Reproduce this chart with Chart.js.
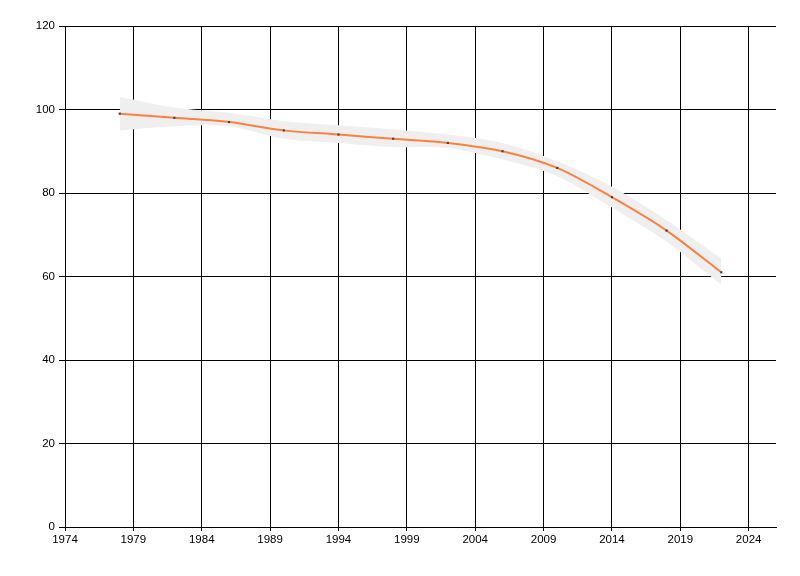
<!DOCTYPE html>
<html>
<head>
<meta charset="utf-8">
<script src="https://cdn.jsdelivr.net/npm/chart.js@4"></script>
<style>
    html, body { margin: 0; padding: 0; background: #fff; }
    #wrap { width: 800px; height: 576px; }
</style>
</head>
<body>
<div id="wrap"><canvas id="chart" width="800" height="576"></canvas></div>
<script>
// data
const years = [1978, 1982, 1986, 1990, 1994, 1998, 2002, 2006, 2010, 2014, 2018, 2022];
const values = [99, 98, 97, 95, 94, 93, 92, 90, 86, 79, 71, 61];
const upper = [103, 100.5, 99.2, 97.2, 96.2, 95.2, 94, 92, 87.6, 81.5, 73.5, 64.3];
const lower = [95, 96, 96, 93, 92, 91, 90.8, 88, 84, 76.5, 68.3, 58];
const xTicks = [1974, 1979, 1984, 1989, 1994, 1999, 2004, 2009, 2014, 2019, 2024];
const yTicks = [0, 20, 40, 60, 80, 100, 120];

const toPoints = (arr) => years.map((y, i) => ({ x: y, y: arr[i] }));

const ctx = document.getElementById('chart').getContext('2d');

new Chart(ctx, {
    type: 'line',
    data: {
        datasets: [
            {
                label: 'lower',
                data: toPoints(lower),
                borderWidth: 0,
                pointRadius: 0,
                fill: false,
                tension: 0.3,
                order: 3,
            },
            {
                label: 'upper',
                data: toPoints(upper),
                borderWidth: 0,
                pointRadius: 0,
                backgroundColor: '#efefef',
                fill: '-1',
                tension: 0.3,
                order: 2,
            },
            {
                label: 'value',
                data: toPoints(values),
                borderColor: '#ff7f3f',
                borderWidth: 2,
                pointStyle: 'rect',
                pointRadius: 1.5,
                pointBackgroundColor: '#404040',
                pointBorderWidth: 0,
                fill: false,
                tension: 0.3,
                order: 1,
            },
        ],
    },
    options: {
        responsive: false,
        animation: false,
        layout: { padding: { top: 26, right: 24, left: 0, bottom: 0 } },
        plugins: {
            legend: { display: false },
            tooltip: { enabled: false },
        },
        scales: {
            x: {
                type: 'linear',
                min: 1974,
                max: 2026,
                afterBuildTicks: (scale) => { scale.ticks = xTicks.map(v => ({ value: v })); },
                afterFit: (scale) => { scale.height = 49; },
                grid: { color: '#000', lineWidth: 1, tickLength: 4 },
                border: { color: '#000', width: 1 },
                ticks: {
                    color: '#000',
                    padding: 2,
                    maxRotation: 0,
                    font: { family: 'Liberation Sans', size: 11.5 },
                    callback: (v) => String(v),
                },
            },
            y: {
                min: 0,
                max: 120,
                afterBuildTicks: (scale) => { scale.ticks = yTicks.map(v => ({ value: v })); },
                afterFit: (scale) => { scale.width = 65; },
                grid: { color: '#000', lineWidth: 1, tickLength: 6 },
                border: { color: '#000', width: 1 },
                ticks: {
                    color: '#000',
                    padding: 4,
                    font: { family: 'Liberation Sans', size: 11.5 },
                },
            },
        },
    },
});
</script>
</body>
</html>
